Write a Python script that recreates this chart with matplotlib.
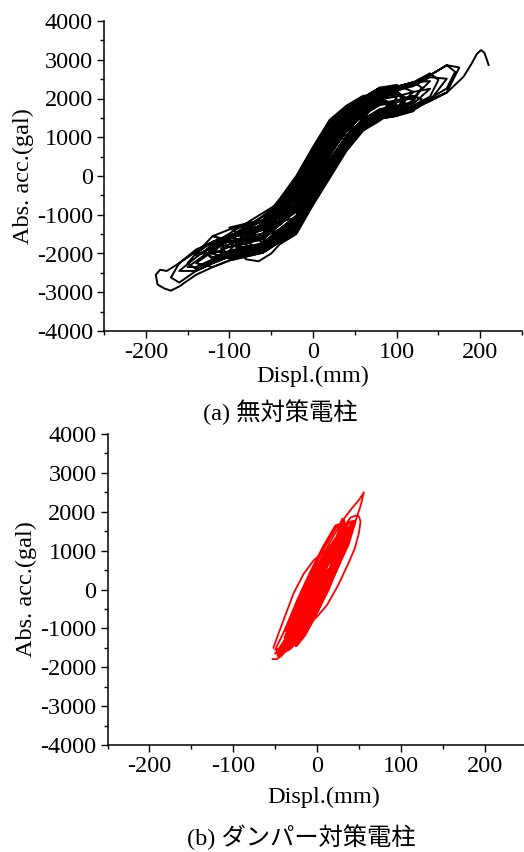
import matplotlib
matplotlib.use("Agg")
import matplotlib.pyplot as plt
from matplotlib.ticker import MultipleLocator

plt.rcParams['font.family'] = ['Liberation Serif', 'Noto Sans CJK JP']
plt.rcParams['axes.unicode_minus'] = False

# ---------------- data: panel (a) no countermeasure (hand-read trajectory) -------------
disp_a = [
    -120, -100, -80, -60, -40, -20, 0, 20, 40, 60, 80, 100, 110,
    100, 80, 60, 40, 20, 0, -20, -40, -60, -80, -100, -120, -130,
    -120, -100, -80, -60, -40, -20, 0, 20, 40, 60, 80, 100, 120, 130,
    120, 100, 80, 60, 40, 20, 0, -20, -40, -60, -80, -100,
    -80, -60, -40, -20, 0, 20, 40, 60, 80, 100,
    80, 60, 40, 20, 0, -20, -40, -60, -80, -100, -120, -140, -150,
    -140, -120, -100, -80, -60, -40, -20, 0, 20, 40, 60, 80, 100, 120, 140, 150,
    140, 120, 100, 80, 60, 40, 20, 0, -20, -40, -60, -80,
    -60, -40, -20, 0, 20, 40, 60, 80,
    60, 40, 20, 0, -20, -40, -60, -80, -100, -120, -140, -160, -170,
    -160, -140, -120, -100, -80, -60, -40, -20, 0, 20, 40, 60, 80, 100, 120, 140, 160, 170,
    160, 140, 120, 100, 80, 60, 40, 20, 0, -20, -40, -60, -80, -100, -110,
    -100, -80, -60, -40, -20, 0, 20, 40, 60, 80, 100, 120,
    100, 80, 60, 40, 20, 0, -20, -40, -60,
    -40, -20, 0, 20, 40, 60, 70,
    60, 40, 20, 0, -20, -40, -60, -80, -100, -120, -140,
    -120, -100, -80, -60, -40, -20, 0, 20, 40, 60, 80, 100, 120, 140,
    120, 100, 80, 60, 40, 20, 0, -20, -40, -60, -80, -90,
    -80, -65, -50, -40, -20, 0, 20, 40, 60, 80, 100,
    80, 60, 40, 20, 0, -20, -40, -50,
    -40, -20, 0, 20, 40, 50,
    40, 20, 0, -20, -40, -60, -80, -100, -120,
    -100, -80, -60, -40, -20, 0, 20, 40, 60, 80, 100, 120, 140, 160,
    140, 120, 100, 80, 60, 40, 20, 0, -20, -40, -60, -80, -100, -120, -140, -160,
    -175, -183, -188, -186, -178, -170,
    -160, -140, -120, -100, -80, -60, -40, -20, 0, 20, 40, 60, 80, 100, 120, 140, 160, 175,
    160, 140, 120, 100, 80, 60, 40, 20, 0, -20, -40, -60, -80, -100,
    -80, -60, -40, -20, 0, 20, 40, 60, 80, 90,
    80, 60, 40, 20, 0, -20, -40, -60, -80, -90,
    -70, -60, -40, -20, 0, 20, 40, 60,
    40, 20, 0, -20, -40,
    -20, 0, 20, 40,
    20, 0, -20, -40, -60, -80, -100, -120, -140, -160,
    -140, -120, -100, -80, -60, -40, -20, 0, 20, 40, 60, 80, 100, 120, 140, 160, 180,
    190, 196, 201, 205, 208, 210,
]
acc_a = [
    -1950, -1980, -1880, -1780, -1440, -1110, -360, 340, 970, 1420, 1680, 1750, 2010,
    2150, 2080, 1820, 1490, 1060, 360, -390, -920, -1380, -1480, -1580, -1750, -1950,
    -2100, -1930, -1830, -1730, -1375, -1050, -300, 400, 1035, 1470, 1730, 1800, 1920, 2285,
    2420, 2300, 2230, 1970, 1685, 1300, 600, -150, -725, -1230, -1450, -1930,
    -2030, -1930, -1635, -1335, -585, 115, 775, 1270, 1530, 1800,
    1930, 1670, 1295, 835, 135, -615, -985, -1530, -1630, -1700, -1550, -2000, -2250,
    -2400, -2200, -2030, -1930, -1830, -1505, -1215, -465, 235, 905, 1370, 1630, 1700, 1820, 2050, 2480,
    2650, 2420, 2300, 2230, 1970, 1555, 1315, 615, -85, -725, -1230, -1580,
    -1630, -1245, -870, -120, 580, 1165, 1570, 1980,
    1870, 1555, 1120, 420, -330, -855, -1330, -1430, -1530, -1700, -1900, -2250, -2620,
    -2750, -2450, -2250, -2080, -1980, -1880, -1570, -1290, -540, 160, 840, 1320, 1580, 1650, 1770, 2000, 2260, 2690,
    2860, 2600, 2370, 2250, 2180, 1920, 1620, 1240, 540, -210, -790, -1280, -1380, -1600, -1960,
    -2130, -2030, -1930, -1635, -1350, -600, 100, 785, 1270, 1530, 1600, 1970,
    2100, 2030, 1770, 1425, 900, 300, -450, -985, -1580,
    -1375, -1020, -270, 430, 1035, 1470, 1750,
    1770, 1425, 970, 270, -480, -985, -1380, -1480, -1550, -1700, -2000,
    -2000, -1830, -1730, -1630, -1245, -885, -135, 565, 1165, 1570, 1830, 1900, 2020, 2450,
    2420, 2300, 2230, 1970, 1685, 1285, 585, -165, -725, -1230, -1500, -1930,
    -2150, -2200, -2000, -1765, -1500, -750, -50, 645, 1170, 1430, 1750,
    1930, 1670, 1295, 850, 150, -600, -1115, -1430,
    -1271, -891, -141, 559, 1139, 1480,
    1451, 991, 291, -459, -959, -1330, -1430, -1550, -2000,
    -2130, -2030, -1930, -1635, -1365, -615, 85, 775, 1270, 1530, 1600, 1720, 1950, 2510,
    2550, 2320, 2200, 2130, 1870, 1555, 1165, 465, -285, -855, -1330, -1430, -1530, -1700, -1950, -2250,
    -2450, -2420, -2550, -2800, -2900, -2960,
    -2850, -2550, -2350, -2180, -2080, -1980, -1700, -1455, -705, -5, 710, 1220, 1560, 1600, 1700, 1960, 2160, 2800,
    2860, 2600, 2370, 2250, 2180, 1920, 1620, 1260, 555, -195, -790, -1280, -1380, -1580,
    -1680, -1580, -1180, -810, -60, 640, 1230, 1620, 1880, 2110,
    2280, 2020, 1750, 1360, 660, -90, -660, -1050, -1300, -1800,
    -1900, -1860, -1544, -1224, -474, 226, 846, 1520,
    1314, 874, 174, -576, -1180,
    -930, -180, 520, 1230,
    880, 180, -570, -1050, -1400, -1500, -1600, -1800, -2100, -2450,
    -2450, -2250, -2080, -1980, -1880, -1570, -1290, -540, 160, 840, 1320, 1580, 1650, 1750, 1930, 2150, 2560,
    2910, 3150, 3250, 3180, 3000, 2865,
]
# further (smaller) cycles of the same record
disp_a2 = [
    -70, -60, -40, -20, 0, 20, 40, 60, 70, 60, 40, 20, 0, -20, -40, -60,
    -90, -80, -60, -40, -20, 0, 20, 40, 60, 80, 90, 80, 60, 40, 20, 0, -20, -40, -60, -80,
    -50, -40, -20, 0, 20, 40, 60, 40, 20, 0, -20, -40,
    -60, -40, -20, 0, 20, 40, 50, 40, 20, 0, -20, -40,
    -110, -100, -80, -60, -40, -20, 0, 20, 40, 60, 80, 100, 110,
    100, 80, 60, 40, 20, 0, -20, -40, -60, -80, -100,
    -130, -120, -100, -80, -60, -40, -20, 0, 20, 40, 60, 80, 100, 120,
    100, 80, 60, 40, 20, 0, -20, -40, -60, -80, -100, -120,
    -80, -60, -40, -20, 0, 20, 40, 60, 80, 100, 80, 60, 40, 20, 0, -20, -40, -60,
    -40, -20, 0, 20, 40, 50, 40, 20, 0, -20,
    -120, -100, -80, -60, -40, -20, 0, 20, 40, 60, 80,
    60, 40, 20, 0, -20, -40, -60, -80, -100,
    -70, -60, -40, -20, 0, 20, 40, 60, 80, 100, 120, 130,
    120, 100, 80, 60, 40, 20, 0, -20, -40, -60,
    -100, -80, -60, -40, -20, 0, 20, 40, 60, 80, 100,
    80, 60, 40, 20, 0, -20, -40, -60, -80,
    -150, -140, -120, -100, -80, -60, -40, -20, 0, 20, 40, 60, 80, 100, 120, 140,
    120, 100, 80, 60, 40, 20, 0, -20, -40, -60, -80, -100, -120, -140,
    -30, -20, 0, 20, 30, 20, 0, -20,
    -140, -120, -100, -80, -60, -40, -20, 0, 20, 40, 60, 80, 100, 110,
    100, 80, 60, 40, 20, 0, -20, -40, -60, -80, -100, -120,
]
acc_a2 = [
    -1580, -1730, -1375, -1035, -285, 415, 1035, 1470, 1800, 1870, 1555, 1135, 435, -315, -855, -1330,
    -1780, -1980, -1880, -1570, -1275, -525, 175, 840, 1320, 1580, 1865, 2080, 1820, 1490, 1075, 375, -375, -920, -1380, -1480,
    -1230, -1180, -795, -45, 655, 1230, 1770, 1620, 1195, 495, -255, -790,
    -1730, -1570, -1245, -495, 205, 840, 1275, 1230, 745, 45, -705, -1180,
    -1865, -2030, -1930, -1830, -1505, -1200, -450, 250, 905, 1370, 1630, 1700, 2010,
    2200, 2130, 1870, 1555, 1150, 450, -300, -855, -1330, -1430, -1530,
    -1950, -2150, -1980, -1880, -1780, -1440, -1140, -390, 310, 970, 1420, 1680, 1750, 2170,
    2350, 2280, 2020, 1750, 1390, 690, -60, -660, -1180, -1280, -1380, -1550,
    -1780, -1880, -1570, -1260, -510, 190, 840, 1320, 1580, 1850, 1980, 1720, 1360, 910, 210, -540, -1050, -1480,
    -1180, -1075, -325, 375, 1000, 1425, 1465, 1025, 325, -425,
    -1750, -1830, -1730, -1630, -1245, -900, -150, 550, 1165, 1570, 2080,
    2070, 1815, 1450, 750, 0, -595, -1130, -1230, -1330,
    -1830, -1980, -1700, -1410, -660, 40, 710, 1220, 1480, 1550, 1670, 1985,
    2070, 1950, 1880, 1620, 1230, 760, 60, -690, -1180, -1580,
    -1730, -1980, -1880, -1570, -1305, -555, 145, 840, 1320, 1580, 2000,
    2280, 2020, 1750, 1405, 705, -45, -660, -1180, -1280,
    -2350, -2350, -2150, -1980, -1880, -1780, -1440, -1095, -345, 355, 970, 1420, 1680, 1750, 1870, 2250,
    2170, 2050, 1980, 1720, 1360, 895, 195, -555, -1050, -1480, -1580, -1680, -1850, -2050,
    -815, -780, -30, 670, 1115, 1030, 330, -420,
    -2250, -2350, -2180, -2080, -1980, -1700, -1440, -690, 10, 710, 1220, 1480, 1550, 1910,
    2150, 2080, 1820, 1490, 1090, 390, -360, -920, -1380, -1480, -1580, -1750,
]

# ---------------- data: panel (b) damper countermeasure (hand-read trajectory) -------------
# largest (outer) cycles
disp_b_outer = [
    -53, -48, -42, -34, -25, -10, 5, 20, 35, 45, 52, 56, 50, 42, 30, 15, 0, -15, -30, -42, -50,
    -40, -30, -15, 0, 12, 25, 37, 45, 50, 52, 50, 46, 40, 30, 15, 0, -15, -30, -40,
    -50, -45, -35, -20, -5, 10, 25, 35, 40, 36, 28, 18, 10, 4, -4, -16, -28, -40, -48, -52,
]
acc_b_outer = [
    -1790, -1790, -1700, -1480, -1200, -650, -50, 550, 1150, 1700, 2150, 2500, 2300, 2100, 1760, 1200, 600, 0, -650, -1200, -1550,
    -1500, -1400, -1000, -700, -400, 100, 650, 1050, 1450, 1750, 1880, 1900, 1850, 1550, 950, 350, -250, -850, -1350,
    -1650, -1620, -1450, -1050, -450, 150, 750, 1250, 1500, 1450, 1250, 1120, 990, 900, 750, 400, -100, -790, -1250, -1500,
]
# dense inner cycles
disp_b = [
    -35, -28, -14, 0, 14, 28, 35, 28, 14, 0, -14, -28,
    -30, -24, -12, 0, 12, 24, 30, 24, 12, 0, -12, -24,
    -40, -32, -16, 0, 16, 32, 40, 32, 16, 0, -16, -32,
    -25, -20, -10, 0, 10, 20, 25, 20, 10, 0, -10, -20,
    -45, -37.5, -22.5, -7.5, 7.5, 22.5, 30, 29, 31, 32, 22.5, 7.5, -7.5, -22.5, -37.5,
    -20, -16, -8, 0, 8, 16, 20, 16, 8, 0, -8, -16,
    -38, -29.7, -13.1, 3.5, 20.1, 36.7, 45, 36.7, 20.1, 3.5, -13.1, -29.7,
    -15, -12, -6, 0, 6, 12, 15, 12, 6, 0, -6, -12,
    -42, -34.6, -19.8, -5, 9.8, 24.6, 32, 24.6, 9.8, -5, -19.8, -34.6,
    -33, -25.9, -11.7, 2.5, 16.7, 30.9, 38, 30.9, 16.7, 2.5, -11.7, -25.9,
    -30, -25, -15, -5, 5, 15, 20, 15, 5, -5, -15, -25,
    -28, -22.4, -11.2, 0, 11.2, 22.4, 28, 22.4, 11.2, 0, -11.2, -22.4,
    -22, -16.4, -5.2, 6, 17.2, 28.4, 34, 28.4, 17.2, 6, -5.2, -16.4,
    -36, -29.8, -17.4, -5, 7.4, 19.8, 26, 19.8, 7.4, -5, -17.4, -29.8,
    -10, -7.8, -3.4, 1, 5.4, 9.8, 12, 9.8, 5.4, 1, -3.4, -7.8,
    -44, -35.4, -18.2, -1, 16.2, 33.4, 42, 33.4, 16.2, -1, -18.2, -35.4,
    -38, -31.2, -17.6, -4, 9.6, 23.2, 30, 23.2, 9.6, -4, -17.6, -31.2,
    -26, -19.8, -7.4, 5, 17.4, 29.8, 36, 29.8, 17.4, 5, -7.4, -19.8,
    -32, -25.6, -12.8, 0, 12.8, 25.6, 32, 25.6, 12.8, 0, -12.8, -25.6,
    -40, -33.8, -21.4, -9, 3.4, 15.8, 22, 15.8, 3.4, -9, -21.4, -33.8,
    -18, -13.4, -4.2, 5, 14.2, 23.4, 28, 23.4, 14.2, 5, -4.2, -13.4,
    -24, -19.2, -9.6, 0, 9.6, 19.2, 24, 19.2, 9.6, 0, -9.6, -19.2,
    -46, -37.8, -21.4, -5, 11.4, 27.8, 36, 27.8, 11.4, -5, -21.4, -37.8,
    -12, -7.8, 0.6, 9, 17.4, 25.8, 30, 25.8, 17.4, 9, 0.6, -7.8, -12,
]
acc_b = [
    -1450, -1375, -917, -375, 223, 905, 1400, 1325, 867, 325, -273, -955,
    -1200, -1140, -756, -300, 204, 780, 1200, 1140, 756, 300, -204, -780,
    -1550, -1480, -988, -400, 252, 1000, 1550, 1480, 988, 400, -252, -1000,
    -1000, -955, -645, -275, 135, 605, 950, 905, 595, 225, -185, -655,
    -1600, -1475, -917, -275, 423, 1205, 1750, 1620, 1800, 1700, 1625, 1067, 425, -273, -1055,
    -800, -760, -504, -200, 136, 520, 800, 760, 504, 200, -136, -520,
    -1400, -1355, -869, -275, 391, 1165, 1750, 1705, 1219, 625, -41, -815,
    -500, -490, -338, -150, 62, 310, 500, 490, 338, 150, -62, -310,
    -1500, -1430, -982, -450, 138, 810, 1300, 1230, 782, 250, -338, -1010,
    -1300, -1200, -736, -200, 384, 1040, 1500, 1400, 936, 400, -184, -840,
    -1350, -1435, -1165, -775, -305, 285, 800, 885, 615, 225, -245, -835,
    -1100, -1095, -777, -375, 83, 625, 1050, 1045, 727, 325, -133, -675,
    -950, -905, -551, -125, 349, 895, 1300, 1255, 901, 475, 1, -545,
    -1350, -1255, -845, -375, 135, 705, 1100, 1005, 595, 125, -385, -955,
    -300, -285, -167, -25, 133, 315, 450, 435, 317, 175, 17, -165,
    -1650, -1500, -936, -300, 384, 1140, 1650, 1500, 936, 300, -384, -1140,
    -1500, -1490, -1074, -550, 46, 750, 1300, 1290, 874, 350, -246, -950,
    -1050, -1040, -668, -200, 332, 960, 1450, 1440, 1068, 600, 68, -560,
    -1250, -1330, -1006, -550, -6, 670, 1250, 1330, 1006, 550, 6, -670,
    -1600, -1530, -1126, -650, -126, 470, 900, 830, 426, -50, -574, -1170,
    -650, -650, -386, -50, 334, 790, 1150, 1150, 886, 550, 166, -290,
    -1000, -1070, -814, -450, -14, 530, 1000, 1070, 814, 450, 14, -530,
    -1700, -1540, -1000, -400, 240, 940, 1400, 1240, 700, 100, -540, -1240,
    -500, -480, -220, 100, 460, 880, 1200, 1180, 920, 600, 240, -180, -500,
]

x_ticks = [-200, -100, 0, 100, 200]
y_ticks = [-4000, -3000, -2000, -1000, 0, 1000, 2000, 3000, 4000]
x_label = "Displ.(mm)"
y_label = "Abs. acc.(gal)"
caption_a = "(a) 無対策電柱"
caption_b = "(b) ダンパー対策電柱"

W, H = 524, 852
fig = plt.figure(figsize=(W / 100, H / 100), dpi=100)

FS = 17.5


def setup(ax):
    ax.set_xlim(-250, 250)
    ax.set_ylim(-4000, 4000)
    ax.set_xticks(x_ticks)
    ax.set_yticks(y_ticks)
    ax.xaxis.set_minor_locator(MultipleLocator(50))
    ax.yaxis.set_minor_locator(MultipleLocator(500))
    ax.tick_params(which='major', direction='out', length=5, width=1.0, labelsize=FS, pad=3)
    ax.tick_params(which='minor', direction='out', length=3, width=1.0)
    for s in ['top', 'right']:
        ax.spines[s].set_visible(False)
    for s in ['left', 'bottom']:
        ax.spines[s].set_linewidth(1.1)
    ax.set_xlabel(x_label, fontsize=FS, labelpad=2)
    ax.set_ylabel(y_label, fontsize=FS, labelpad=2)


ax1 = fig.add_axes([104 / W, 1 - 331 / H, 418 / W, 310 / H])
ax1.plot(disp_a, acc_a, color='black', lw=1.4, solid_joinstyle='round')
ax1.plot(disp_a2, acc_a2, color='black', lw=1.4, solid_joinstyle='round')
setup(ax1)

ax2 = fig.add_axes([107.6 / W, 1 - 745 / H, 418.8 / W, 311 / H])
ax2.plot(disp_b_outer, acc_b_outer, color='red', lw=1.3, solid_joinstyle='round')
ax2.plot(disp_b, acc_b, color='red', lw=2.6, solid_joinstyle='round')
setup(ax2)
ax2.xaxis.set_label_coords((324 - 107.6) / 418.8, -0.135)

fig.text(280 / W, 1 - 412 / H, caption_a, ha='center', va='center', fontsize=FS)
fig.text(301 / W, 1 - 837 / H, caption_b, ha='center', va='center', fontsize=FS)

fig.savefig("out.png", dpi=100)
